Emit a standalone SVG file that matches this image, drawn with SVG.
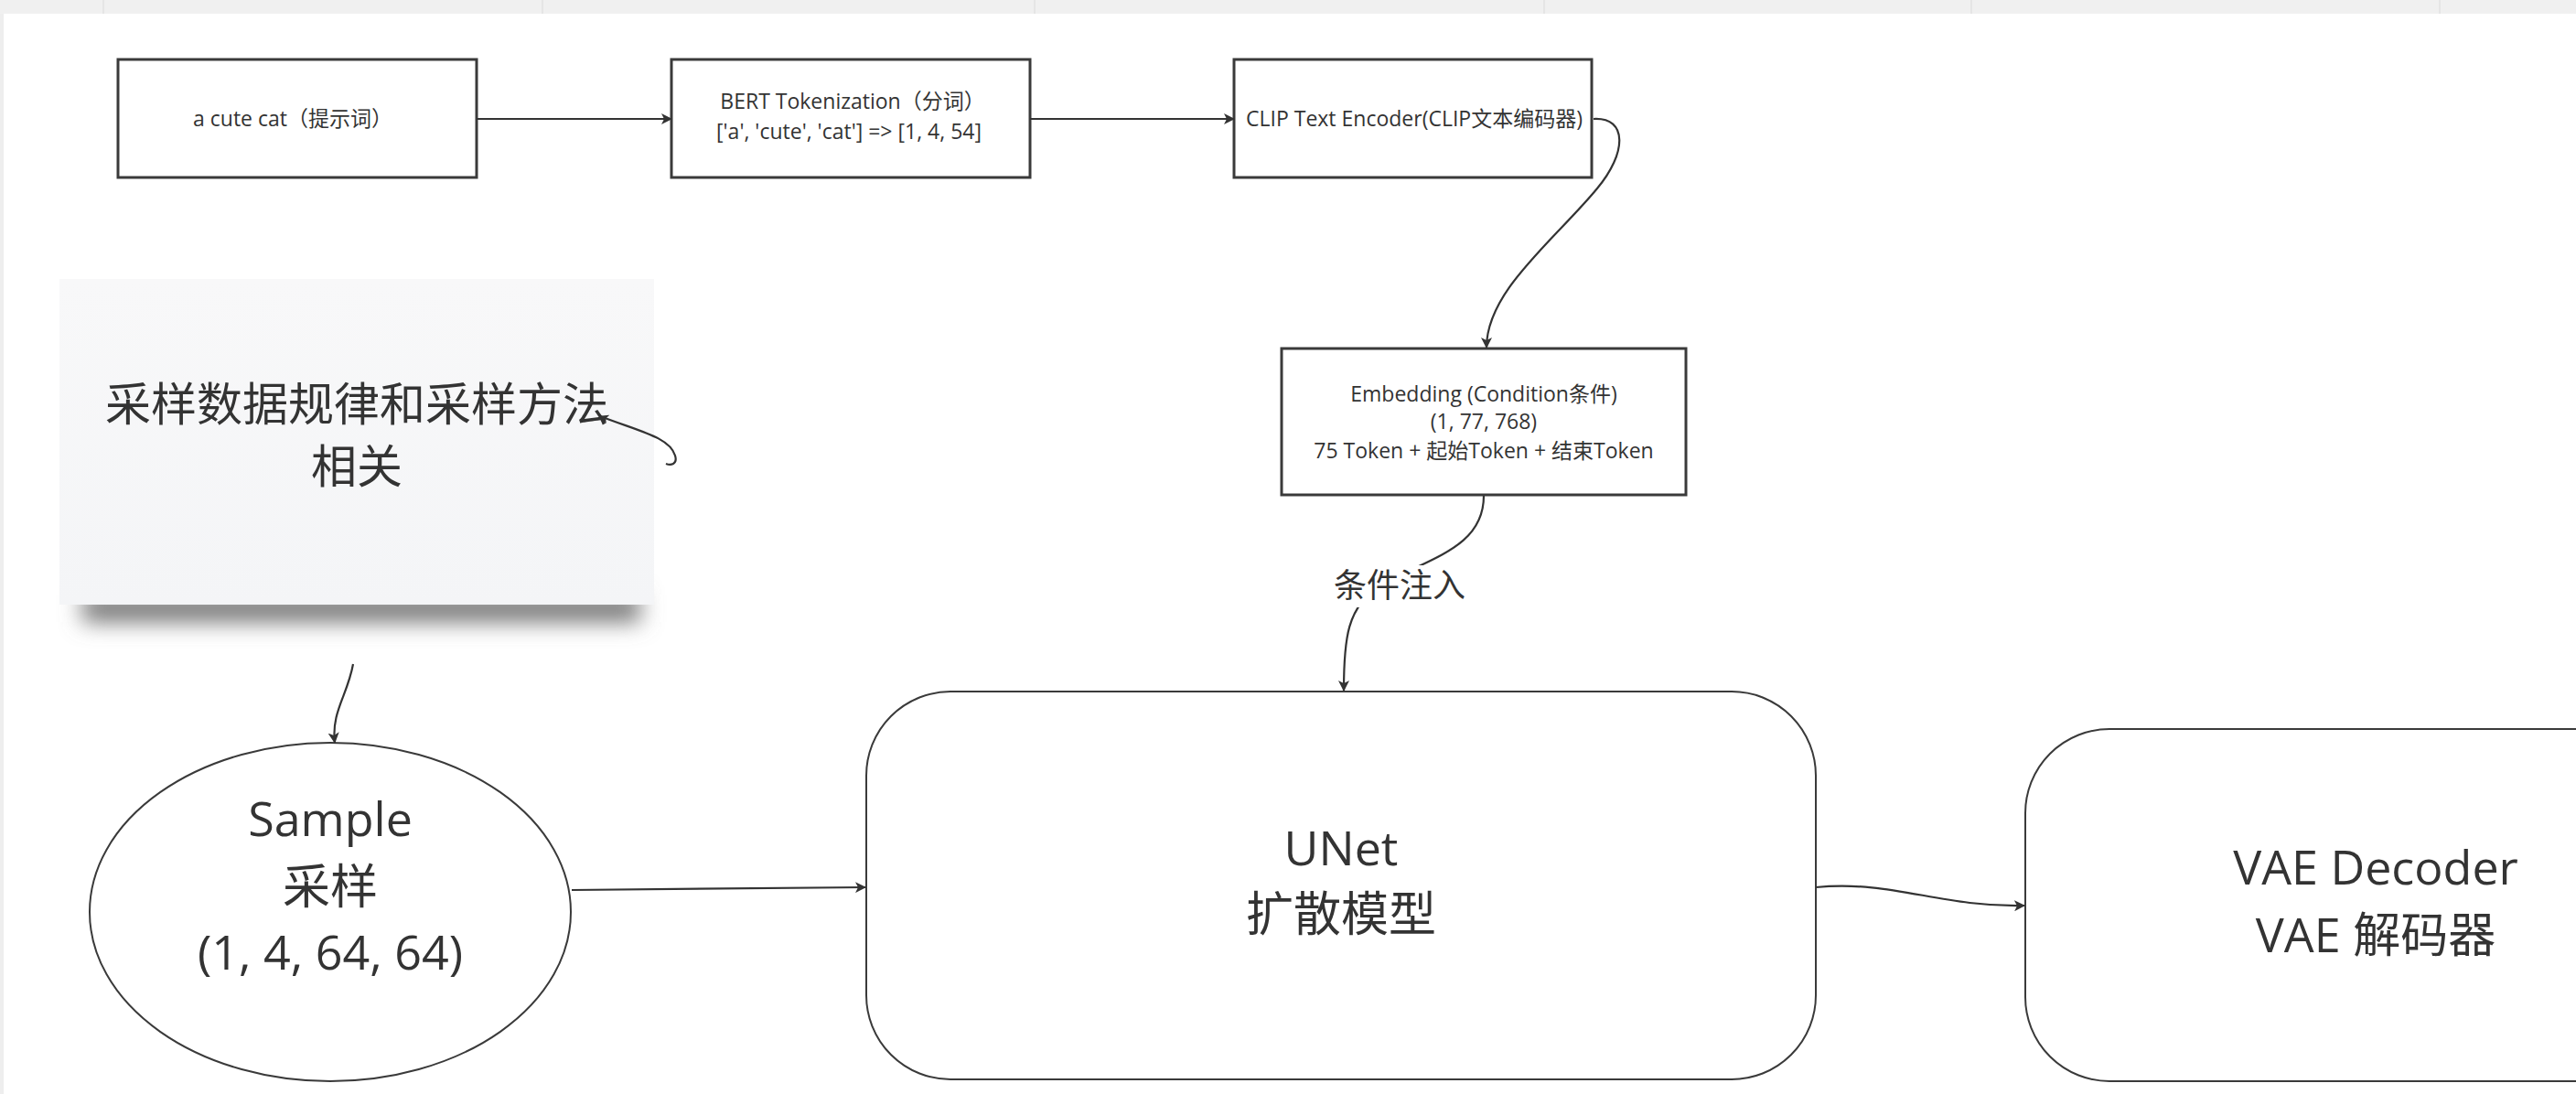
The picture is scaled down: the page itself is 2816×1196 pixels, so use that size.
<svg xmlns="http://www.w3.org/2000/svg" width="2816" height="1196" viewBox="0 0 2816 1196">
<defs>
<style>
.box{fill:#fff;stroke:#3a3a3a;stroke-width:3}
.shape{fill:#fff;stroke:#3a3a3a;stroke-width:2}
.t{font-family:"Open Sans","Noto Sans CJK SC",sans-serif;fill:#333;text-anchor:middle}
.s{font-size:23px}
.m{font-size:50px}
.l{font-size:52px}
.edge{fill:none;stroke:#333;stroke-width:2.2}
.grid{stroke:#e2e2e2;stroke-width:1.5}
</style>
<marker id="arr" viewBox="0 0 12 12" refX="11" refY="6" markerWidth="12" markerHeight="12" markerUnits="userSpaceOnUse" orient="auto">
<path d="M0,0 L12,6 L0,12 L3,6 Z" fill="#333"/>
</marker>
<marker id="arrS" viewBox="0 0 12 12" refX="1" refY="6" markerWidth="10" markerHeight="10" markerUnits="userSpaceOnUse" orient="auto">
<path d="M12,0 L0,6 L12,12 L9,6 Z" fill="#333"/>
</marker>
<filter id="blur" x="-20%" y="-300%" width="140%" height="700%">
<feGaussianBlur stdDeviation="12"/>
</filter>
<linearGradient id="noteg" x1="0" y1="0" x2="0" y2="1">
<stop offset="0" stop-color="#f8f8f9"/>
<stop offset="1" stop-color="#f4f5f7"/>
</linearGradient>
</defs>
<rect width="2816" height="1196" fill="#fff"/>
<g id="topbar">
<rect x="0" y="0" width="2816" height="15" fill="#f0f0f0"/>
<line class="grid" x1="113" y1="0" x2="113" y2="15"/>
<line class="grid" x1="593" y1="0" x2="593" y2="15"/>
<line class="grid" x1="1131" y1="0" x2="1131" y2="15"/>
<line class="grid" x1="1688" y1="0" x2="1688" y2="15"/>
<line class="grid" x1="2155" y1="0" x2="2155" y2="15"/>
<line class="grid" x1="2667" y1="0" x2="2667" y2="15"/>
</g>
<rect x="0" y="15" width="4" height="1181" fill="#eeeeee"/>

<g id="note">
<rect x="90" y="650" width="610" height="30" fill="#777" filter="url(#blur)"/>
<rect x="65" y="305" width="650" height="356" fill="url(#noteg)"/>
<text class="t m" x="390" y="460">采样数据规律和采样方法</text>
<text class="t m" x="390" y="528">相关</text>
</g>

<g id="prompt">
<rect class="box" x="129" y="65" width="392" height="129"/>
<text class="t s" x="320" y="138">a cute cat（提示词）</text>
</g>
<g id="bert">
<rect class="box" x="734" y="65" width="392" height="129"/>
<text class="t s" x="932" y="119">BERT Tokenization（分词）</text>
<text class="t s" x="928" y="152">['a', 'cute', 'cat'] =&gt; [1, 4, 54]</text>
</g>
<g id="clip">
<rect class="box" x="1349" y="65" width="391" height="129"/>
<text class="t s" x="1546" y="138">CLIP Text Encoder(CLIP文本编码器)</text>
</g>
<g id="embedding">
<rect class="box" x="1401" y="381" width="442" height="160"/>
<text class="t s" x="1622" y="439">Embedding (Condition条件)</text>
<text class="t s" x="1622" y="469">(1, 77, 768)</text>
<text class="t s" x="1622" y="501">75 Token + 起始Token + 结束Token</text>
</g>
<g id="sample">
<ellipse class="shape" cx="361" cy="997" rx="263" ry="185"/>
<text class="t l" x="361" y="914">Sample</text>
<text class="t l" x="361" y="988">采样</text>
<text class="t l" x="361" y="1060">(1, 4, 64, 64)</text>
</g>
<g id="unet">
<rect class="shape" x="947" y="756" width="1038" height="424" rx="92" ry="92"/>
<text class="t l" x="1466" y="946">UNet</text>
<text class="t l" x="1466" y="1018">扩散模型</text>
</g>
<g id="vae">
<rect class="shape" x="2214" y="797" width="700" height="385" rx="92" ry="92"/>
<text class="t l" x="2597" y="967">VAE Decoder</text>
<text class="t l" x="2597" y="1041">VAE 解码器</text>
</g>

<g id="connectors">
<path class="edge" d="M521,130 L734,130" marker-end="url(#arr)"/>
<path class="edge" d="M1126,130 L1349,130" marker-end="url(#arr)"/>
<path class="edge" d="M1742,130 C1780,128 1778,168 1746,206 C1700,262 1625,318 1625,380" marker-end="url(#arr)"/>
<path class="edge" d="M1622,542 C1622,600 1560,610 1510,640 C1472,662 1469,700 1469,755" marker-end="url(#arr)"/>
<path class="edge" d="M625,973 L946,970" marker-end="url(#arr)"/>
<path class="edge" d="M1985,970 C2070,962 2120,992 2213,990" marker-end="url(#arr)"/>
<path class="edge" d="M386,726 C380,760 362,778 366,812" marker-end="url(#arr)"/>
<path class="edge" d="M656,455 C700,472 732,478 738,498 C741,508 733,509 728,507" marker-start="url(#arrS)"/>
<rect x="1454" y="618" width="152" height="46" fill="#fff"/>
<text class="t" x="1530" y="653" style="font-size:36px">条件注入</text>
</g>
</svg>
